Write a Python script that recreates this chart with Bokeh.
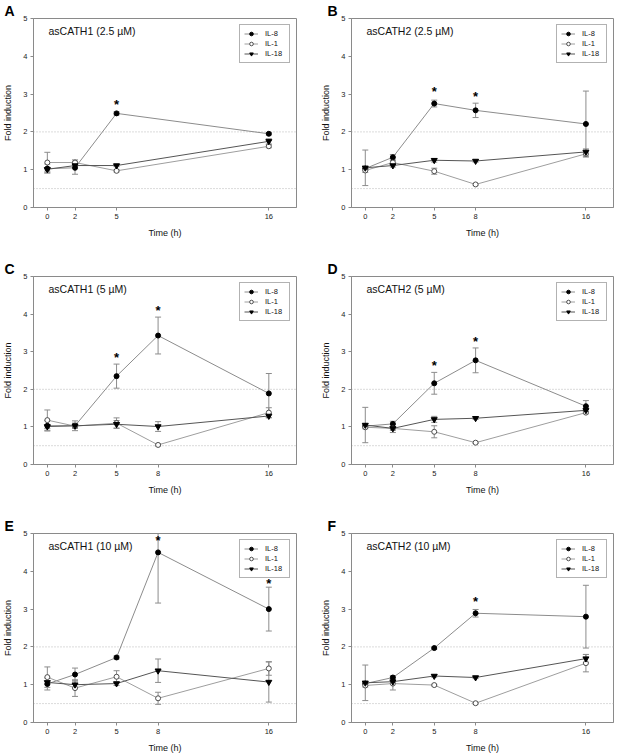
from bokeh.plotting import figure
from bokeh.models import Range1d, FixedTicker, Span, Label, Legend, LegendItem, Title
from bokeh.layouts import column, row
from bokeh.core.properties import value
from bokeh.embed import file_html
from bokeh.resources import INLINE

FONT = "Liberation Sans"

# ---------------- data ----------------
times_a = [0, 2, 5, 16]
times_bf = [0, 2, 5, 8, 16]
y_ticks = [0, 1, 2, 3, 4, 5]
ref_levels = [0.5, 2.0]
series_names = ["IL-8", "IL-1", "IL-18"]

letters = ["A", "B", "C", "D", "E", "F"]
titles = ["asCATH1 (2.5 µM)", "asCATH2 (2.5 µM)",
          "asCATH1 (5 µM)", "asCATH2 (5 µM)",
          "asCATH1 (10 µM)", "asCATH2 (10 µM)"]

# Panel A
a_il8 = [1.03, 1.05, 2.49, 1.95]
a_il8_err = [0.12, 0.17, 0.04, 0.03]
a_il1 = [1.19, 1.19, 0.97, 1.62]
a_il1_err = [0.27, 0.07, 0.03, 0.04]
a_il18 = [1.01, 1.11, 1.11, 1.75]
a_il18_err = [0.05, 0.03, 0.03, 0.07]
a_star_t = [5]
a_star_y = [2.78]

# Panel B
b_il8 = [1.03, 1.33, 2.75, 2.57, 2.21]
b_il8_err = [0.05, 0.07, 0.09, 0.19, 0.87]
b_il1 = [0.98, 1.19, 0.96, 0.61, 1.42]
b_il1_err = [0.05, 0.05, 0.08, 0.02, 0.08]
b_il18 = [1.05, 1.11, 1.25, 1.23, 1.47]
b_il18_err = [0.47, 0.04, 0.05, 0.03, 0.08]
b_star_t = [5, 8]
b_star_y = [3.13, 2.98]

# Panel C
c_il8 = [1.03, 1.03, 2.35, 3.43, 1.89]
c_il8_err = [0.14, 0.13, 0.32, 0.49, 0.53]
c_il1 = [1.18, 1.02, 1.10, 0.52, 1.38]
c_il1_err = [0.27, 0.05, 0.14, 0.03, 0.13]
c_il18 = [1.01, 1.03, 1.07, 1.01, 1.29]
c_il18_err = [0.05, 0.07, 0.10, 0.13, 0.05]
c_star_t = [5, 8]
c_star_y = [2.91, 4.14]

# Panel D
d_il8 = [1.02, 1.08, 2.16, 2.77, 1.55]
d_il8_err = [0.04, 0.07, 0.29, 0.33, 0.15]
d_il1 = [0.99, 0.96, 0.87, 0.58, 1.38]
d_il1_err = [0.04, 0.05, 0.16, 0.02, 0.03]
d_il18 = [1.05, 0.96, 1.20, 1.23, 1.44]
d_il18_err = [0.47, 0.11, 0.08, 0.03, 0.04]
d_star_t = [5, 8]
d_star_y = [2.69, 3.33]

# Panel E
e_il8 = [1.02, 1.27, 1.72, 4.50, 3.00]
e_il8_err = [0.16, 0.17, 0.04, 1.34, 0.58]
e_il1 = [1.20, 0.91, 1.21, 0.64, 1.43]
e_il1_err = [0.27, 0.22, 0.16, 0.16, 0.18]
e_il18 = [1.06, 1.00, 1.03, 1.37, 1.07]
e_il18_err = [0.05, 0.10, 0.05, 0.31, 0.53]
e_star_t = [8, 16]
e_star_y = [4.87, 3.74]

# Panel F
f_il8 = [1.03, 1.19, 1.97, 2.89, 2.80]
f_il8_err = [0.04, 0.05, 0.03, 0.10, 0.83]
f_il1 = [0.98, 1.03, 0.99, 0.51, 1.57]
f_il1_err = [0.04, 0.17, 0.02, 0.02, 0.23]
f_il18 = [1.05, 1.08, 1.23, 1.19, 1.69]
f_il18_err = [0.47, 0.04, 0.03, 0.03, 0.11]
f_star_t = [8]
f_star_y = [3.26]

panels = [
    (times_a, [(a_il8, a_il8_err), (a_il1, a_il1_err), (a_il18, a_il18_err)], a_star_t, a_star_y),
    (times_bf, [(b_il8, b_il8_err), (b_il1, b_il1_err), (b_il18, b_il18_err)], b_star_t, b_star_y),
    (times_bf, [(c_il8, c_il8_err), (c_il1, c_il1_err), (c_il18, c_il18_err)], c_star_t, c_star_y),
    (times_bf, [(d_il8, d_il8_err), (d_il1, d_il1_err), (d_il18, d_il18_err)], d_star_t, d_star_y),
    (times_bf, [(e_il8, e_il8_err), (e_il1, e_il1_err), (e_il18, e_il18_err)], e_star_t, e_star_y),
    (times_bf, [(f_il8, f_il8_err), (f_il1, f_il1_err), (f_il18, f_il18_err)], f_star_t, f_star_y),
]

# ---------------- styles ----------------
series_style = [
    dict(marker="circle", fill="black", outline="black", line="#8c8c8c", size=5),
    dict(marker="circle", fill="white", outline="#4d4d4d", line="#9e9e9e", size=5),
    dict(marker="inverted_triangle", fill="black", outline="black", line="#555555", size=6),
]
ERR_COLOR = "#8c8c8c"
AX_COLOR = "#8a8a8a"

# layout geometry: (width, left, right) per column; (height, top, bottom) per row
col_geom = [(318, 32, 22), (300, 32, 5)]
row_geom = [(258, 17, 51), (257, 17, 51), (240, 17, 33)]
letter_dx = [-29, -24]


def make_panel(idx):
    times, series, star_t, star_y = panels[idx]
    ci, ri = idx % 2, idx // 2
    w, bl, br = col_geom[ci]
    h, bt, bb = row_geom[ri]
    frame_h = h - bt - bb
    p = figure(width=w, height=h, output_backend="svg", toolbar_location=None,
               x_range=Range1d(-1, 18), y_range=Range1d(0, 5), title=None,
               min_border_left=bl, min_border_right=br,
               min_border_top=bt, min_border_bottom=bb)
    p.add_layout(Title(text=letters[idx], align="left", offset=letter_dx[ci],
                       standoff=0, text_font=FONT, text_font_size="14px",
                       text_font_style="bold", text_color="black",
                       vertical_align="bottom"), "above")
    p.xgrid.visible = False
    p.ygrid.visible = False
    p.outline_line_color = AX_COLOR
    p.outline_line_width = 1
    p.background_fill_color = "white"
    p.border_fill_color = "white"

    for lvl in ref_levels:
        p.add_layout(Span(location=lvl, dimension="width", line_color="#b5b5b5",
                          line_width=1, line_dash="1 2", level="underlay"))

    items = []
    for (vals, errs), st, name in zip(series, series_style, series_names):
        hi = [v + e for v, e in zip(vals, errs)]
        lo = [v - e for v, e in zip(vals, errs)]
        p.segment(x0=times, y0=lo, x1=times, y1=hi, line_color=ERR_COLOR, line_width=1)
        p.scatter(x=times, y=hi, marker="dash", size=6, line_color=ERR_COLOR, line_width=1)
        p.scatter(x=times, y=lo, marker="dash", size=6, line_color=ERR_COLOR, line_width=1)
    for (vals, errs), st, name in zip(series, series_style, series_names):
        lr = p.line(x=times, y=vals, line_color=st["line"], line_width=1)
        mr = p.scatter(x=times, y=vals, marker=st["marker"], size=st["size"],
                       fill_color=st["fill"], line_color=st["outline"], line_width=1)
        items.append(LegendItem(label=value(name), renderers=[lr, mr]))

    p.text(x=star_t, y=star_y, text=["*"] * len(star_t), text_font=value(FONT),
           text_font_size="13px", text_font_style="bold", text_align="center",
           text_baseline="middle", y_offset=2, text_color="black")

    legend = Legend(items=items, location="top_right", margin=6, padding=4,
                    spacing=1, glyph_width=14, glyph_height=9, label_height=9,
                    label_standoff=7, label_text_font=FONT,
                    label_text_font_size="7.5px", label_text_color="#111111",
                    border_line_color="#666666",
                    border_line_width=1, background_fill_color="white",
                    background_fill_alpha=1)
    p.add_layout(legend)

    p.add_layout(Label(x=15, y=frame_h - 13, x_units="screen", y_units="screen",
                       text=titles[idx], text_font=FONT, text_font_size="10.5px",
                       text_baseline="middle", text_color="#111111"))

    p.xaxis.ticker = FixedTicker(ticks=times)
    p.yaxis.ticker = FixedTicker(ticks=y_ticks)
    p.xaxis.axis_label = "Time (h)"
    p.yaxis.axis_label = "Fold induction"
    for ax in (p.xaxis[0], p.yaxis[0]):
        ax.axis_line_color = AX_COLOR
        ax.major_tick_line_color = AX_COLOR
        ax.minor_tick_line_color = None
        ax.major_tick_out = 3
        ax.major_tick_in = 0
        ax.major_label_text_font = FONT
        ax.major_label_text_font_size = "7.5px"
        ax.major_label_text_color = "#222222"
        ax.major_label_standoff = 3
        ax.axis_label_text_font = FONT
        ax.axis_label_text_font_size = "9px"
        ax.axis_label_text_font_style = "normal"
        ax.axis_label_text_color = "#111111"
    p.xaxis.axis_label_standoff = 6
    p.yaxis.axis_label_standoff = 7
    return p


figs = [make_panel(i) for i in range(6)]
layout = column(row(figs[0], figs[1]), row(figs[2], figs[3]), row(figs[4], figs[5]))

open("out.html", "w").write(file_html(layout, INLINE))
